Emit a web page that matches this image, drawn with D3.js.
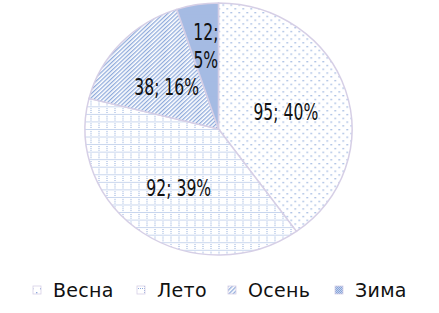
<!DOCTYPE html>
<html>
<head>
<meta charset="utf-8">
<script src="https://cdn.jsdelivr.net/npm/d3@7"></script>
<style>
  body { margin: 0; background: #fff; }
  #chart { width: 439px; height: 313px; }
</style>
</head>
<body>
<div id="chart"></div>
<script>
    // season counts
    var seasons = ["Весна", "Лето", "Осень", "Зима"];
    var counts = [95, 92, 38, 12];
    var percents = ["40%", "39%", "16%", "5%"];
    var patternIds = ["p-dots", "p-grid", "p-diag", "p-check"];

    var full_width = 439, full_height = 313;
    var cx = 218.5, cy = 129, rx = 133.5, ry = 126;
    var blue = "#8eaadb";

    var svg = d3.select("#chart")
        .append("svg")
        .attr("width", full_width)
        .attr("height", full_height);

    var defs = svg.append("defs");

    // dotted fill
    var p1 = defs.append("pattern").attr("id", "p-dots")
        .attr("patternUnits", "userSpaceOnUse").attr("width", 8).attr("height", 8);
    p1.append("rect").attr("width", 8).attr("height", 8).attr("fill", "#fff");
    p1.append("rect").attr("x", 0).attr("y", 0).attr("width", 1.4).attr("height", 1.4).attr("fill", blue);
    p1.append("rect").attr("x", 4).attr("y", 4).attr("width", 1.4).attr("height", 1.4).attr("fill", blue);

    // dotted grid
    var p2 = defs.append("pattern").attr("id", "p-grid")
        .attr("patternUnits", "userSpaceOnUse").attr("width", 8).attr("height", 8);
    p2.append("rect").attr("width", 8).attr("height", 8).attr("fill", "#fff");
    d3.range(0, 8, 2).forEach(function(k) {
        p2.append("rect").attr("x", 0).attr("y", k).attr("width", 1).attr("height", 1).attr("fill", blue);
        p2.append("rect").attr("x", k).attr("y", 0).attr("width", 1).attr("height", 1).attr("fill", blue);
    });

    // diagonal stripes
    var p3 = defs.append("pattern").attr("id", "p-diag")
        .attr("patternUnits", "userSpaceOnUse").attr("width", 3).attr("height", 3)
        .attr("patternTransform", "rotate(45)");
    p3.append("rect").attr("width", 3).attr("height", 3).attr("fill", "#fff");
    p3.append("rect").attr("width", 1.3).attr("height", 3).attr("fill", blue);

    // checkerboard
    var p4 = defs.append("pattern").attr("id", "p-check")
        .attr("patternUnits", "userSpaceOnUse").attr("width", 2).attr("height", 2);
    p4.append("rect").attr("width", 2).attr("height", 2).attr("fill", "#c4d2ee");
    p4.append("rect").attr("width", 1).attr("height", 1).attr("fill", "#86a3d8");
    p4.append("rect").attr("x", 1).attr("y", 1).attr("width", 1).attr("height", 1).attr("fill", "#86a3d8");

    var pie = d3.pie().sort(null).value(function(d) { return d; });
    var arcs = pie(counts);

    var arc = d3.arc().innerRadius(0).outerRadius(rx);

    var g = svg.append("g")
        .attr("transform", "translate(" + cx + "," + cy + ") scale(1," + (ry / rx) + ")");

    g.selectAll("path")
        .data(arcs)
        .enter()
        .append("path")
        .attr("d", arc)
        .attr("fill", function(d, i) { return "url(#" + patternIds[i] + ")"; })
        .attr("stroke", "#d6cfe6")
        .attr("stroke-width", 1.5);

    // labels, narrow font squeezed from DejaVu
    var labelG = svg.append("g")
        .attr("transform", "translate(" + cx + "," + cy + ")");

    arcs.forEach(function(d, i) {
        var mid = (d.startAngle + d.endAngle) / 2;
        var share = (d.endAngle - d.startAngle) / (2 * Math.PI);
        var rr = share < 0.1 ? 0.6 : 0.53;
        var x = Math.sin(mid) * rx * rr;
        var y = -Math.cos(mid) * ry * rr + 3;
        var t = labelG.append("text")
            .attr("transform", "translate(" + x + "," + y + ") scale(0.68,1)")
            .attr("text-anchor", "middle")
            .style("font-family", "'DejaVu Sans', sans-serif")
            .style("font-size", "23px")
            .style("fill", "#111");
        if (share < 0.1) {
            t.append("tspan").attr("x", 0).attr("dy", "-0.75em").text(counts[i] + ";");
            t.append("tspan").attr("x", 0).attr("dy", "1.2em").text(percents[i]);
        } else {
            t.attr("dy", "0.36em").text(counts[i] + "; " + percents[i]);
        }
    });

    // legend
    var legendX = [33, 137, 228, 335];
    var legend = svg.append("g");
    seasons.forEach(function(s, i) {
        legend.append("rect")
            .attr("x", legendX[i])
            .attr("y", 286)
            .attr("width", 8)
            .attr("height", 8)
            .attr("fill", "url(#" + patternIds[i] + ")")
            .attr("stroke", "#d6cfe6")
            .attr("stroke-width", 0.8);
        legend.append("text")
            .attr("x", legendX[i] + 20)
            .attr("y", 290)
            .attr("dy", "0.36em")
            .style("font-family", "'DejaVu Sans', sans-serif")
            .style("font-size", "19px")
            .style("letter-spacing", "0.3px")
            .style("fill", "#111")
            .text(s);
    });
</script>
</body>
</html>
